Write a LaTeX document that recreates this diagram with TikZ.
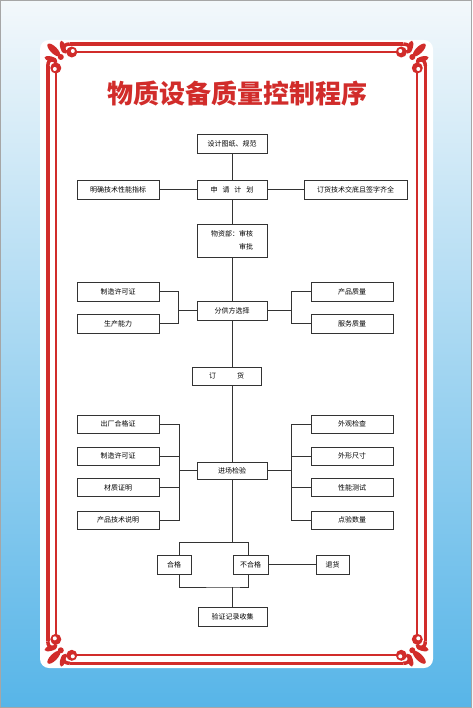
\documentclass[tikz,border=0pt]{standalone}
\usepackage{fontspec}
\newfontfamily\cjk{Noto Sans CJK SC}
\definecolor{framered}{HTML}{D12C2A}
\definecolor{skytop}{HTML}{F3F8FB}
\definecolor{skymid}{HTML}{B9DFF4}
\definecolor{skybot}{HTML}{57B5E8}
\newcommand{\cornerdeco}{%
  \draw[framered,line width=3.5pt] (22,0) .. controls (14,0) and (13,8) .. (19,8);
  \draw[framered,line width=3.5pt] (0,22) .. controls (0,14) and (8,13) .. (8,19);
  \fill[framered] (24,8) circle (5.5pt) (8,24) circle (5.5pt);
  \fill[white] (25,7) circle (2pt) (7,25) circle (2pt);
  \fill[framered,rotate around={-45:(6,6)}] (6,6) ellipse (8.5pt and 3.4pt);
  \fill[framered,rotate around={105:(15,3)}] (15,3) ellipse (6.5pt and 2.6pt);
  \fill[framered,rotate around={165:(3,15)}] (3,15) ellipse (6.5pt and 2.6pt);
  \fill[framered] (13,13) circle (3pt);
}

\begin{document}
\begin{tikzpicture}[x=1pt,y=-1pt,
  box/.style={draw=black!80,line width=0.6pt,fill=white,minimum width=70pt,minimum height=19pt,
    inner sep=0pt,font=\cjk\fontsize{7}{13}\selectfont},
  sidebox/.style={box,minimum width=82pt},
  link/.style={draw=black!80,line width=0.6pt}]
\useasboundingbox (0,0) rectangle (472,708);
\shade[top color=skytop,middle color=skymid,bottom color=skybot] (0,0) rectangle (472,708);
\draw[gray!70,line width=1pt] (0.5,0.5) rectangle (471.5,707.5);
\fill[white,rounded corners=9pt] (40,40) rectangle (433,668);

\draw[framered,line width=3.5pt] (69.8,44) -- (403.3,44);
\draw[framered,line width=3.5pt] (69.8,663.3) -- (403.3,663.3);
\draw[framered,line width=3.5pt] (47.8,66) -- (47.8,641.3);
\draw[framered,line width=3.5pt] (425.3,66) -- (425.3,641.3);
\draw[framered,line width=1.8pt] (76.8,52) -- (396.3,52);
\draw[framered,line width=1.8pt] (76.8,655.3) -- (396.3,655.3);
\draw[framered,line width=1.8pt] (55.8,73) -- (55.8,634.3);
\draw[framered,line width=1.8pt] (417.3,73) -- (417.3,634.3);
\begin{scope}[shift={(47.8,44)}]\cornerdeco\end{scope}
\begin{scope}[shift={(425.3,44)},xscale=-1]\cornerdeco\end{scope}
\begin{scope}[shift={(47.8,663.3)},yscale=-1]\cornerdeco\end{scope}
\begin{scope}[shift={(425.3,663.3)},xscale=-1,yscale=-1]\cornerdeco\end{scope}

\node[text=framered,font=\cjk\bfseries\fontsize{26}{26}\selectfont] (title) at (237,94) {物质设备质量控制程序};

\node[box] (design) at (232,143.5) {设计图纸、规范};
\node[box] (plan) at (232,189.5) {申\hspace{5pt}请\hspace{5pt}计\hspace{5pt}划};
\node[box,minimum width=82pt] (spec) at (118,189.5) {明确技术性能指标};
\node[box,minimum width=103pt] (brief) at (355.5,189.5) {订货技术交底且签字齐全};
\node[box,minimum height=33pt,align=left] (dept) at (232,240.5) {物资部：审核\\\hphantom{物资部：}审批};
\node[box] (supplier) at (232,310.5) {分供方选择};
\node[sidebox] (permit) at (118,291.5) {制造许可证};
\node[sidebox] (ability) at (118,323.5) {生产能力};
\node[sidebox] (prodq) at (352,291.5) {产品质量};
\node[sidebox] (servq) at (352,323.5) {服务质量};
\node[box,minimum width=69pt,minimum height=18pt] (order) at (226.5,376) {订\hspace{21pt}货};
\node[box,minimum height=17pt] (entry) at (232,470.5) {进场检验};
\node[sidebox,minimum height=18pt] (factory) at (118,424) {出厂合格证};
\node[sidebox,minimum height=18pt] (permitb) at (118,456) {制造许可证};
\node[sidebox,minimum height=18pt] (material) at (118,487.5) {材质证明};
\node[sidebox,minimum height=18pt] (manual) at (118,520) {产品技术说明};
\node[sidebox,minimum height=18pt] (looks) at (352,424) {外观检查};
\node[sidebox,minimum height=18pt] (outline) at (352,456) {外形尺寸};
\node[sidebox,minimum height=18pt] (perform) at (352,487.5) {性能测试};
\node[sidebox,minimum height=18pt] (amount) at (352,520) {点验数量};
\node[box,minimum width=34pt] (pass) at (174,564.5) {合格};
\node[box,minimum width=35pt] (fail) at (250.5,564.5) {不合格};
\node[box,minimum width=33pt] (back) at (332.5,564.5) {退货};
\node[box,minimum width=69pt] (record) at (232.5,616.5) {验证记录收集};
\coordinate (merge) at (232,587);

\draw[link] (design) -- (plan);
\draw[link] (spec) -- (plan);
\draw[link] (plan) -- (brief);
\draw[link] (plan) -- (dept);
\draw[link] (dept) -- (supplier);
\draw[link] (permit.east) -- ++(19,0) |- (ability.east);
\draw[link] (supplier.west) -- ++(-19,0);
\draw[link] (prodq.west) -- ++(-19,0) |- (servq.west);
\draw[link] (supplier.east) -- ++(25,0);
\draw[link] (supplier.south) -- (supplier.south |- order.north);
\draw[link] (order.south -| entry.north) -- (entry.north);
\draw[link] (factory.east) -- ++(20,0) |- (manual.east);
\draw[link] (permitb.east) -- ++(20,0);
\draw[link] (material.east) -- ++(20,0);
\draw[link] (entry.west) -- ++(-18,0);
\draw[link] (looks.west) -- ++(-19,0) |- (amount.west);
\draw[link] (outline.west) -- ++(-19,0);
\draw[link] (perform.west) -- ++(-19,0);
\draw[link] (entry.east) -- ++(25,0);
\draw[link] (entry.south) -- ++(0,63) coordinate (split);
\draw[link] ([xshift=5pt]pass.north) |- (split) -| ([xshift=-2.5pt]fail.north);
\draw[link] (fail) -- (back);
\draw[link] ([xshift=5pt]pass.south) |- (merge) -| ([xshift=-2.5pt]fail.south);
\draw[link] (merge) -- (merge |- record.north);
\end{tikzpicture}
\end{document}
